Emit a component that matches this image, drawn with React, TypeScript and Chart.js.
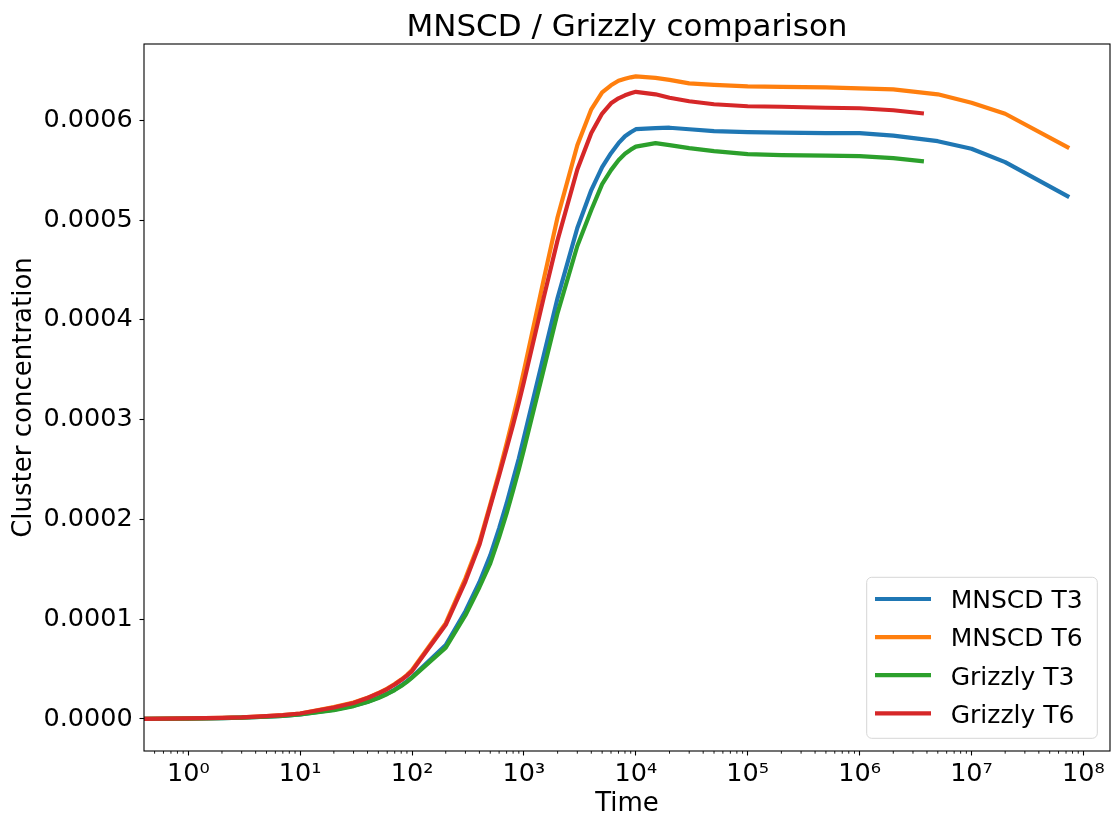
import React, { useEffect, useRef } from 'react';
import { Chart, registerables } from 'chart.js';

Chart.register(...registerables);

const chartTitle = 'MNSCD / Grizzly comparison';
const xAxisLabel = 'Time';
const yAxisLabel = 'Cluster concentration';
const seriesNames = ['MNSCD T3', 'MNSCD T6', 'Grizzly T3', 'Grizzly T6'];
const seriesColors = ['#1f77b4', '#ff7f0e', '#2ca02c', '#d62728'];

const timeMNSCD = [0, 1, 2, 3, 5, 7, 10, 20, 30, 40, 50, 60, 70, 80, 90, 100, 200, 300, 400, 500, 600, 700, 800, 900, 1000, 1500, 2000, 3000, 4000, 5000, 6000, 7000, 8000, 9000, 1e4, 1.5e4, 2e4, 3e4, 5e4, 1e5, 2e5, 5e5, 1e6, 2e6, 5e6, 1e7, 2e7, 7.2e7];
const timeGrizzly = [0, 1, 2, 3, 5, 7, 10, 20, 30, 40, 50, 60, 70, 80, 90, 100, 200, 300, 400, 500, 600, 700, 800, 900, 1000, 1500, 2000, 3000, 4000, 5000, 6000, 7000, 8000, 9000, 1e4, 1.5e4, 2e4, 3e4, 5e4, 1e5, 2e5, 5e5, 1e6, 2e6, 3.6e6];

const mnscdT3 = [0, 0.004e-4, 0.009e-4, 0.013e-4, 0.022e-4, 0.031e-4, 0.045e-4, 0.092e-4, 0.132e-4, 0.172e-4, 0.214e-4, 0.255e-4, 0.295e-4, 0.337e-4, 0.378e-4, 0.42e-4, 0.74e-4, 1.08e-4, 1.37e-4, 1.64e-4, 1.91e-4, 2.16e-4, 2.40e-4, 2.61e-4, 2.82e-4, 3.64e-4, 4.22e-4, 4.92e-4, 5.30e-4, 5.53e-4, 5.67e-4, 5.77e-4, 5.84e-4, 5.88e-4, 5.91e-4, 5.92e-4, 5.925e-4, 5.91e-4, 5.89e-4, 5.88e-4, 5.875e-4, 5.87e-4, 5.87e-4, 5.845e-4, 5.79e-4, 5.715e-4, 5.58e-4, 5.24e-4];
const mnscdT6 = [0, 0.005e-4, 0.011e-4, 0.016e-4, 0.028e-4, 0.039e-4, 0.055e-4, 0.12e-4, 0.165e-4, 0.212e-4, 0.26e-4, 0.305e-4, 0.35e-4, 0.395e-4, 0.44e-4, 0.49e-4, 0.96e-4, 1.41e-4, 1.77e-4, 2.15e-4, 2.47e-4, 2.76e-4, 3.02e-4, 3.26e-4, 3.49e-4, 4.40e-4, 5.03e-4, 5.75e-4, 6.11e-4, 6.28e-4, 6.35e-4, 6.395e-4, 6.415e-4, 6.43e-4, 6.44e-4, 6.425e-4, 6.405e-4, 6.37e-4, 6.355e-4, 6.34e-4, 6.335e-4, 6.33e-4, 6.32e-4, 6.31e-4, 6.26e-4, 6.175e-4, 6.065e-4, 5.73e-4];
const grizzlyT3 = [0, 0.004e-4, 0.009e-4, 0.013e-4, 0.022e-4, 0.031e-4, 0.045e-4, 0.088e-4, 0.129e-4, 0.17e-4, 0.21e-4, 0.25e-4, 0.29e-4, 0.33e-4, 0.372e-4, 0.415e-4, 0.715e-4, 1.04e-4, 1.32e-4, 1.56e-4, 1.82e-4, 2.06e-4, 2.29e-4, 2.50e-4, 2.70e-4, 3.50e-4, 4.07e-4, 4.74e-4, 5.10e-4, 5.36e-4, 5.50e-4, 5.60e-4, 5.665e-4, 5.705e-4, 5.735e-4, 5.77e-4, 5.75e-4, 5.72e-4, 5.69e-4, 5.66e-4, 5.65e-4, 5.645e-4, 5.64e-4, 5.62e-4, 5.59e-4];
const grizzlyT6 = [0, 0.005e-4, 0.011e-4, 0.016e-4, 0.028e-4, 0.039e-4, 0.055e-4, 0.115e-4, 0.16e-4, 0.21e-4, 0.257e-4, 0.30e-4, 0.345e-4, 0.39e-4, 0.435e-4, 0.48e-4, 0.944e-4, 1.38e-4, 1.745e-4, 2.13e-4, 2.44e-4, 2.71e-4, 2.95e-4, 3.17e-4, 3.38e-4, 4.22e-4, 4.80e-4, 5.506e-4, 5.872e-4, 6.067e-4, 6.17e-4, 6.22e-4, 6.25e-4, 6.27e-4, 6.285e-4, 6.26e-4, 6.225e-4, 6.19e-4, 6.16e-4, 6.14e-4, 6.135e-4, 6.125e-4, 6.12e-4, 6.10e-4, 6.07e-4];

const xTickValues = [1, 10, 100, 1e3, 1e4, 1e5, 1e6, 1e7, 1e8];
const yTickValues = [0, 0.0001, 0.0002, 0.0003, 0.0004, 0.0005, 0.0006];
const xMin = 0.402;
const xMax = 1.73e8;
const yMin = -0.0000321;
const yMax = 0.0006764;

const FONT = 'DejaVu Sans';
const SUP: Record<string, string> = { '0': '⁰', '1': '¹', '2': '²', '3': '³', '4': '⁴', '5': '⁵', '6': '⁶', '7': '⁷', '8': '⁸', '9': '⁹', '-': '⁻' };
const sup = (n: number) => String(n).split('').map((c) => SUP[c] || c).join('');

const pairs = (xs: number[], ys: number[]) => xs.map((x, i) => ({ x, y: ys[i] }));

const seriesData = [
  pairs(timeMNSCD, mnscdT3),
  pairs(timeMNSCD, mnscdT6),
  pairs(timeGrizzly, grizzlyT3),
  pairs(timeGrizzly, grizzlyT6),
];

const framePlugin = {
  id: 'mplFrame',
  afterDatasetsDraw(chart: any) {
    const { ctx, chartArea: ca, scales } = chart;
    const xs = scales.x;
    ctx.save();
    ctx.strokeStyle = '#000';
    ctx.lineWidth = 0.9;
    for (let k = -1; k <= 8; k++) {
      for (let m = 2; m <= 9; m++) {
        const v = m * Math.pow(10, k);
        if (v < xMin || v > xMax) continue;
        const px = xs.getPixelForValue(v);
        ctx.beginPath();
        ctx.moveTo(px, ca.bottom);
        ctx.lineTo(px, ca.bottom + 2.7);
        ctx.stroke();
      }
    }
    ctx.lineWidth = 1.1;
    ctx.strokeRect(ca.left, ca.top, ca.right - ca.left, ca.bottom - ca.top);
    ctx.restore();
  },
  afterDraw(chart: any) {
    const { ctx, chartArea: ca } = chart;
    const w = 230.6;
    const h = 161;
    const right = ca.right - 12.7;
    const bottom = ca.bottom - 12.7;
    const left = right - w;
    const top = bottom - h;
    ctx.save();
    ctx.beginPath();
    if (ctx.roundRect) ctx.roundRect(left, top, w, h, 5);
    else ctx.rect(left, top, w, h);
    ctx.fillStyle = 'rgba(255,255,255,0.8)';
    ctx.fill();
    ctx.strokeStyle = '#d6d6d6';
    ctx.lineWidth = 1;
    ctx.stroke();
    ctx.font = `25px "${FONT}"`;
    ctx.textBaseline = 'alphabetic';
    ctx.textAlign = 'left';
    seriesNames.forEach((name, i) => {
      const yy = top + 21.7 + i * 38.1;
      ctx.strokeStyle = seriesColors[i];
      ctx.lineWidth = 4.2;
      ctx.lineCap = 'square';
      ctx.beginPath();
      ctx.moveTo(left + 10.4, yy);
      ctx.lineTo(left + 62.2, yy);
      ctx.stroke();
      ctx.fillStyle = '#000';
      ctx.fillText(name, left + 84, yy + 9.3);
    });
    ctx.restore();
  },
};

export default function App() {
  const ref = useRef<HTMLCanvasElement | null>(null);
  useEffect(() => {
    if (!ref.current) return;
    const tickFont = { family: FONT, size: 25.5 };
    const chart = new Chart(ref.current, {
      type: 'line',
      data: {
        datasets: seriesNames.map((name, i) => ({
          label: name,
          data: seriesData[i],
          borderColor: seriesColors[i],
          backgroundColor: seriesColors[i],
          borderWidth: 4.2,
          pointRadius: 0,
          pointHoverRadius: 0,
          tension: 0,
          fill: false,
          clip: 0,
          borderCapStyle: 'square',
          borderJoinStyle: 'round',
          order: seriesNames.length - i,
        })),
      },
      options: {
        responsive: false,
        animation: false,
        events: [],
        layout: { padding: { top: 0, right: 4, bottom: 0, left: 0 } },
        plugins: {
          legend: { display: false },
          tooltip: { enabled: false },
          title: {
            display: true,
            text: chartTitle,
            fullSize: false,
            color: '#000',
            font: { family: FONT, size: 31, weight: 'normal', lineHeight: 1 },
            padding: { top: 12.8, bottom: 0.2 },
          },
        },
        scales: {
          x: {
            type: 'logarithmic',
            min: xMin,
            max: xMax,
            afterFit: (s: any) => { s.height = 69; },
            afterBuildTicks: (s: any) => { s.ticks = xTickValues.map((v) => ({ value: v, major: true })); },
            ticks: {
              autoSkip: false,
              maxRotation: 0,
              minRotation: 0,
              padding: 3.6,
              color: '#000',
              font: tickFont,
              callback: (v: any) => '10' + sup(Math.round(Math.log10(Number(v)))),
            },
            grid: { drawOnChartArea: false, tickLength: 4.5, tickWidth: 1.1, tickColor: '#000' },
            border: { display: false },
            title: {
              display: true,
              text: xAxisLabel,
              color: '#000',
              font: { family: FONT, size: 26, lineHeight: 1.2 },
              padding: { top: 0, bottom: 0.3 },
            },
          },
          y: {
            type: 'linear',
            min: yMin,
            max: yMax,
            afterFit: (s: any) => { s.width = 144; },
            afterBuildTicks: (s: any) => { s.ticks = yTickValues.map((v) => ({ value: v })); },
            ticks: {
              padding: 6.8,
              color: '#000',
              font: tickFont,
              callback: (v: any) => Number(v).toFixed(4),
            },
            grid: { drawOnChartArea: false, tickLength: 4.5, tickWidth: 1.1, tickColor: '#000' },
            border: { display: false },
            title: {
              display: true,
              text: yAxisLabel,
              color: '#000',
              font: { family: FONT, size: 26, lineHeight: 1.2 },
              padding: { top: 8.8, bottom: 0 },
            },
          },
        },
      },
      plugins: [framePlugin],
    } as any);
    return () => chart.destroy();
  }, []);
  return (
    <div style={{ position: 'fixed', left: 0, top: 0, width: 1114, height: 820, background: '#fff' }}>
      <canvas ref={ref} width={1114} height={820} style={{ display: 'block', width: 1114, height: 820 }} />
    </div>
  );
}
